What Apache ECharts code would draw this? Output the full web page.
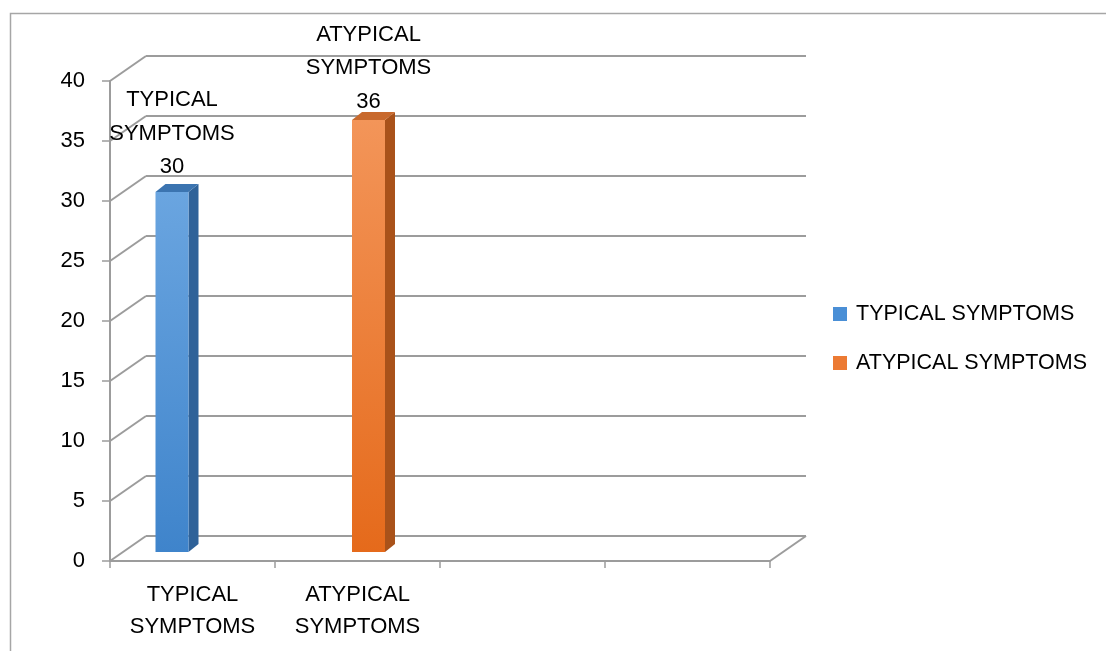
<!DOCTYPE html>
<html><head><meta charset="utf-8">
<script src="https://cdn.jsdelivr.net/npm/echarts@6/dist/echarts.min.js"></script>
<style>html,body{margin:0;padding:0;background:#fff}#c{width:1106px;height:651px}</style>
</head><body><div id="c"></div>
<script>
// ---- data ----
const categories = ['TYPICAL SYMPTOMS', 'ATYPICAL SYMPTOMS', '', ''];
const seriesNames = ['TYPICAL SYMPTOMS', 'ATYPICAL SYMPTOMS'];
const typicalValues = [30, null, null, null];
const atypicalValues = [null, 36, null, null];
const yTicks = [0, 5, 10, 15, 20, 25, 30, 35, 40];

// ---- styles ----
const FONT = '"Liberation Sans", Arial, sans-serif';
const FS = 22;
const GRID_GRAY = '#9c9c9c';
const WALL = [36, -25];        // depth of the 3D walls
const BAR_POS = [13, -9];      // bar front face depth offset
const BAR_THICK = [10, -8];    // bar thickness (side/top)
const BAR_W = 33;
const seriesStyle = [
  { shift: -33.5, labelGap: 25, front: ['#6aa5e0', '#3f84cb'], side: '#2f6299', top: '#3b74b0', legend: '#4a8fd6' },
  { shift: -2, labelGap: 18.5, front: ['#f39559', '#e56a1b'], side: '#a9521a', top: '#c8692d', legend: '#ec7a33' }
];

function wrap(s) { return s.replace(' ', '\n'); }

function barSeries(idx, values) {
  const st = seriesStyle[idx];
  const data = [];
  values.forEach((v, i) => { if (v !== null) data.push([i, v]); });
  return {
    type: 'custom', name: seriesNames[idx], xAxisIndex: 0, yAxisIndex: 0,
    clip: false, z: 5,
    itemStyle: { color: st.legend },
    encode: { x: 0, y: 1 },
    data: data,
    renderItem: function (params, api) {
      const cat = api.value(0), val = api.value(1);
      const base = api.coord([cat, 0]);
      const top = api.coord([cat, val]);
      const cx = base[0] + st.shift + BAR_POS[0];
      const xl = cx - BAR_W / 2, xr = cx + BAR_W / 2;
      const yb = base[1] + BAR_POS[1], yt = top[1] + BAR_POS[1];
      const dx = BAR_THICK[0], dy = BAR_THICK[1];
      return {
        type: 'group',
        children: [
          { type: 'polygon', shape: { points: [[xr, yt], [xr + dx, yt + dy], [xr + dx, yb + dy], [xr, yb]] },
            style: { fill: st.side } },
          { type: 'polygon', shape: { points: [[xl, yt], [xl + dx, yt + dy], [xr + dx, yt + dy], [xr, yt]] },
            style: { fill: st.top } },
          { type: 'rect', shape: { x: xl, y: yt, width: BAR_W, height: yb - yt },
            style: { fill: new echarts.graphic.LinearGradient(0, 0, 0, 1, [
              { offset: 0, color: st.front[0] }, { offset: 1, color: st.front[1] }]) } },
          { type: 'text', x: cx, y: yt - st.labelGap + 17,
            style: { text: wrap(seriesNames[idx]) + '\n' + val, align: 'center', verticalAlign: 'bottom',
              fontSize: FS, fontFamily: FONT, lineHeight: 33.5, fill: '#000' } }
        ]
      };
    }
  };
}

const chart = echarts.init(document.getElementById('c'), null, { renderer: 'canvas' });
chart.setOption({
  animation: false,
  backgroundColor: '#fff',
  graphic: [{ type: 'rect', shape: { x: 10.5, y: 13.5, width: 1200, height: 800 },
    style: { fill: 'none', stroke: '#a6a6a6', lineWidth: 1.5 }, z: -10 }],
  grid: [
    { left: 110, top: 81, width: 660, height: 480 },
    { left: 146, top: 56, width: 660, height: 480 }
  ],
  xAxis: [
    { type: 'category', gridIndex: 0, data: categories,
      axisLine: { lineStyle: { color: GRID_GRAY, width: 2 } },
      axisTick: { show: true, length: 7, lineStyle: { color: GRID_GRAY, width: 1.5 } },
      axisLabel: { color: '#000', fontSize: FS, fontFamily: FONT, lineHeight: 32, margin: 18, interval: 0,
        formatter: v => wrap(v) } },
    { type: 'category', gridIndex: 1, data: categories, show: false }
  ],
  yAxis: [
    { type: 'value', gridIndex: 0, min: 0, max: 40, interval: 5,
      axisLine: { show: true, lineStyle: { color: GRID_GRAY, width: 2 } },
      axisTick: { show: true, length: 8, lineStyle: { color: GRID_GRAY, width: 1.5 } },
      axisLabel: { color: '#000', fontSize: FS, fontFamily: FONT, margin: 25 },
      splitLine: { show: false } },
    { type: 'value', gridIndex: 1, min: 0, max: 40, interval: 5,
      axisLine: { show: false }, axisTick: { show: false }, axisLabel: { show: false },
      splitLine: { show: true, lineStyle: { color: GRID_GRAY, width: 2 } } }
  ],
  legend: {
    orient: 'vertical', left: 828, top: 298, itemWidth: 14, itemHeight: 14, itemGap: 27,
    textStyle: { color: '#000', fontSize: 21.5, fontFamily: FONT, lineHeight: 22, padding: [0, 0, 0, 4] },
    data: seriesNames.map((n, i) => ({ name: n, icon: 'rect', itemStyle: { color: seriesStyle[i].legend } }))
  },
  series: [
    { type: 'custom', name: 'sideWall', xAxisIndex: 0, yAxisIndex: 0, clip: false, z: 1, silent: true,
      encode: { x: 0, y: 1 },
      data: yTicks.map(v => [0, v]),
      renderItem: function (params, api) {
        const p = api.coord([api.value(0), api.value(1)]);
        const bw = api.size([1, 0])[0];
        const x0 = p[0] - bw / 2;
        return { type: 'line', shape: { x1: x0, y1: p[1], x2: x0 + WALL[0], y2: p[1] + WALL[1] },
          style: { stroke: GRID_GRAY, lineWidth: 2 } };
      } },
    { type: 'custom', name: 'floorEdge', xAxisIndex: 0, yAxisIndex: 0, clip: false, z: 1, silent: true,
      encode: { x: 0, y: 1 },
      data: [[categories.length - 1, 0]],
      renderItem: function (params, api) {
        const p = api.coord([api.value(0), api.value(1)]);
        const bw = api.size([1, 0])[0];
        const x0 = p[0] + bw / 2;
        return { type: 'line', shape: { x1: x0, y1: p[1], x2: x0 + WALL[0], y2: p[1] + WALL[1] },
          style: { stroke: GRID_GRAY, lineWidth: 2 } };
      } },
    barSeries(0, typicalValues),
    barSeries(1, atypicalValues)
  ]
});
</script>
</body></html>
